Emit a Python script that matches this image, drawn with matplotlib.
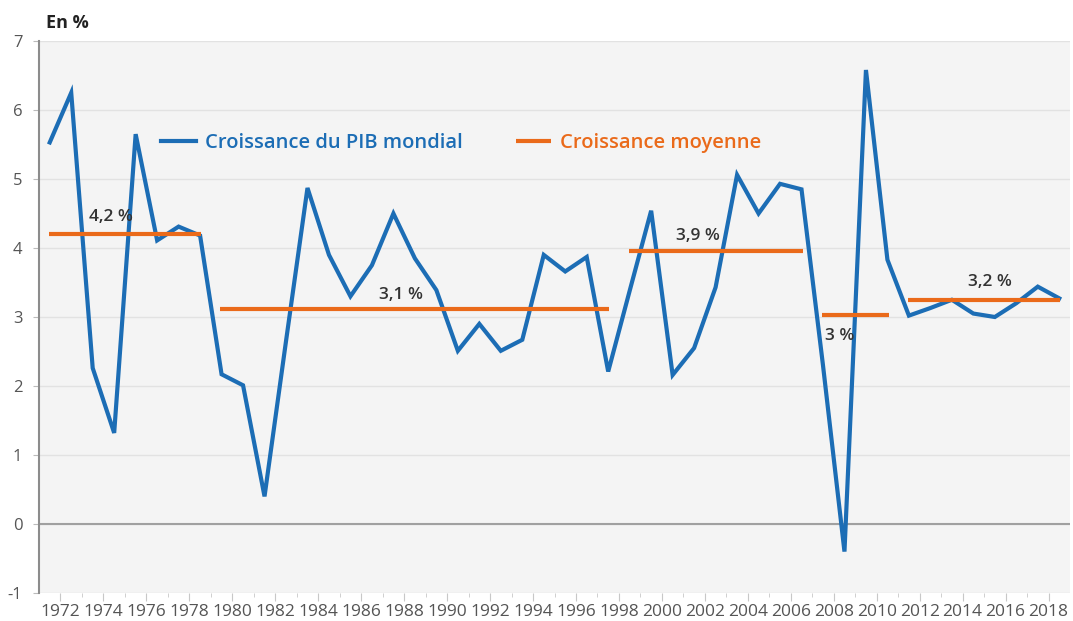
import numpy as np
import matplotlib.pyplot as plt

plt.rcParams['font.family'] = ['Open Sans', 'DejaVu Sans']
plt.rcParams['axes.unicode_minus'] = False

# croissance annuelle du PIB mondial (en %)
years = list(range(1972, 2020))
pib = [5.53, 6.25, 2.26, 1.32, 5.65, 4.11, 4.31, 4.18, 2.17, 2.01,
       0.40, 2.65, 4.87, 3.90, 3.30, 3.75, 4.50, 3.85, 3.39, 2.51,
       2.90, 2.51, 2.67, 3.90, 3.66, 3.87, 2.21, 3.38, 4.54, 2.16,
       2.55, 3.43, 5.06, 4.50, 4.93, 4.85, 2.30, -0.40, 6.58, 3.83,
       3.02, 3.13, 3.25, 3.05, 3.00, 3.20, 3.44, 3.27]

# croissance moyenne par periode
periods = [(1972, 1979), (1980, 1998), (1999, 2007), (2008, 2011), (2012, 2019)]
moyennes = [4.20, 3.11, 3.95, 3.03, 3.24]
moy_labels = ['4,2 %', '3,1 %', '3,9 %', '3 %', '3,2 %']
label_pos = [(1974.84, 4.45), (1988.36, 3.32), (2002.19, 4.17), (2008.76, 2.72), (2015.76, 3.50)]

tick_years = list(range(1972, 2019, 2))
minor_years = list(range(1973, 2018, 2))

blue = '#1c6db5'
orange = '#ea6a1a'

fig = plt.figure(figsize=(10.73, 6.21), dpi=100)
ax = fig.add_axes([39/1073, 1-593/621, (1070-39)/1073, 552/621])
ax.set_facecolor('#f4f4f4')

ax.plot(years, pib, color=blue, lw=3, solid_joinstyle='miter', zorder=3,
        label='Croissance du PIB mondial')
for i, ((a, b), m) in enumerate(zip(periods, moyennes)):
    ax.plot([a - 0.05, b + 0.05], [m, m], color=orange, lw=3, solid_capstyle='butt',
            zorder=4, label='Croissance moyenne' if i == 0 else None)
for txt, (x, y) in zip(moy_labels, label_pos):
    ax.text(x, y, txt, ha='center', va='center', fontsize=12.5, fontweight='semibold',
            color='#333333', zorder=5)

ax.set_xlim(1971.5, 2019.5)
ax.set_ylim(-1, 7)
ax.set_yticks(range(-1, 8))
ax.set_xticks([y + 0.5 for y in tick_years])
ax.set_xticklabels([str(y) for y in tick_years])
ax.set_xticks([y + 0.5 for y in minor_years], minor=True)

ax.grid(axis='y', color='#e2e2e2', lw=1)
ax.axhline(0, color='#a0a0a0', lw=1.5, zorder=2)
ax.set_axisbelow(True)

for s in ['top', 'right', 'bottom']:
    ax.spines[s].set_visible(False)
ax.spines['left'].set_color('#8c8c8c')
ax.spines['left'].set_linewidth(1.5)

ax.tick_params(axis='y', length=4, color='#bbbbbb', pad=8, labelsize=12, labelcolor='#555555')
ax.tick_params(axis='x', which='major', length=6, color='#c8c8c8', pad=2, labelsize=12.5,
               labelcolor='#555555')
ax.tick_params(axis='x', which='minor', length=3, color='#c8c8c8')

leg = ax.legend(loc='center left', bbox_to_anchor=(0.118, 0.815), ncol=2, frameon=False,
                handlelength=1.75, handletextpad=0.45, columnspacing=2.65,
                borderpad=0, borderaxespad=0, labelcolor='linecolor',
                prop={'weight': 'semibold', 'size': 14.5})

fig.text(46/1073, 1-23/621, 'En %', fontsize=13, fontweight='bold', color='#222222',
         va='center', ha='left')

fig.savefig('out.png', dpi=100)
